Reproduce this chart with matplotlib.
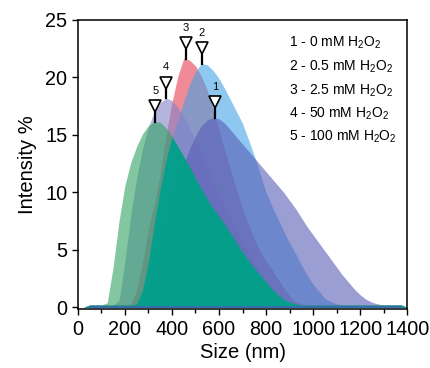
import numpy as np
import matplotlib
matplotlib.use("Agg")
import matplotlib.pyplot as plt
from matplotlib.ticker import MultipleLocator

plt.rcParams['font.family'] = ['Liberation Sans', 'DejaVu Sans']
plt.rcParams['mathtext.fontset'] = 'custom'
plt.rcParams['mathtext.rm'] = 'Liberation Sans'
plt.rcParams['mathtext.it'] = 'Liberation Sans:italic'

# ---- data ----
size_nm = np.arange(0, 1401, 25)

# curve 1 - 0 mM H2O2
int_1 = [0, 0, 0.2, 0.2, 0.2, 0.2, 0.2, 0.2, 0.2, 0.2,
         0.2, 0.8, 2.0, 3.6, 5.4, 7.2, 9.0, 10.8, 12.4, 13.8,
         14.9, 15.8, 16.3, 16.5, 16.4, 16.0, 15.4, 14.8, 14.2, 13.6,
         13.0, 12.4, 11.8, 11.2, 10.6, 10.0, 9.3, 8.6, 7.8, 7.0,
         6.3, 5.6, 4.9, 4.2, 3.5, 2.8, 2.2, 1.6, 1.1, 0.7,
         0.45, 0.3, 0.2, 0.2, 0.2, 0.2, 0]
# curve 2 - 0.5 mM H2O2
int_2 = [0, 0, 0.2, 0.2, 0.2, 0.2, 0.2, 0.2, 0.2, 0.2,
         0.3, 1.5, 4.0, 7.3, 10.3, 12.8, 14.8, 16.3, 17.9, 19.4,
         20.5, 21.2, 21.1, 20.6, 19.9, 19.0, 18.0, 17.0, 16.0, 14.6,
         13.2, 11.6, 10.0, 8.8, 7.7, 6.6, 5.6, 4.7, 3.7, 2.8,
         2.0, 1.4, 0.8, 0.5, 0.3, 0.2, 0.2, 0.2, 0.2, 0.2,
         0.2, 0.2, 0.2, 0.2, 0.2, 0.2, 0]
# curve 3 - 2.5 mM H2O2
int_3 = [0, 0, 0.2, 0.2, 0.2, 0.2, 0.2, 0.2, 0.2, 0.3,
         1.5, 4.0, 6.8, 9.0, 11.6, 15.0, 17.8, 20.1, 21.65, 21.5,
         21.0, 20.1, 18.9, 17.2, 15.4, 13.6, 11.9, 10.2, 8.6, 7.2,
         6.0, 4.9, 4.0, 3.3, 2.5, 1.7, 1.0, 0.5, 0.3, 0.2,
         0.2, 0.2, 0.2, 0.2, 0.2, 0.2, 0.2, 0.2, 0.2, 0.2,
         0.2, 0.2, 0.2, 0.2, 0.2, 0.2, 0]
# curve 4 - 50 mM H2O2
int_4 = [0, 0, 0.2, 0.2, 0.2, 0.2, 0.2, 0.6, 4.0, 8.0,
         11.3, 13.8, 15.7, 17.0, 17.8, 18.2, 18.0, 17.4, 16.6, 15.6,
         14.5, 13.4, 12.2, 11.0, 9.9, 8.8, 7.7, 6.7, 5.7, 4.8,
         3.9, 3.1, 2.4, 1.7, 1.2, 0.8, 0.5, 0.3, 0.2, 0.2,
         0.2, 0.2, 0.2, 0.2, 0.2, 0.2, 0.2, 0.2, 0.2, 0.2,
         0.2, 0.2, 0.2, 0.2, 0.2, 0.2, 0]
# curve 5 - 100 mM H2O2
int_5 = [0, 0, 0.2, 0.2, 0.2, 0.4, 3.5, 7.5, 10.6, 12.6,
         14.0, 15.1, 15.8, 16.15, 16.1, 15.6, 14.9, 14.0, 13.1, 12.2,
         11.2, 10.3, 9.4, 8.6, 7.9, 7.2, 6.4, 5.6, 4.8, 4.1,
         3.4, 2.8, 2.2, 1.6, 1.1, 0.7, 0.45, 0.3, 0.2, 0.2,
         0.2, 0.2, 0.2, 0.2, 0.2, 0.2, 0.2, 0.2, 0.2, 0.2,
         0.2, 0.2, 0.2, 0.2, 0.2, 0.2, 0]

curve_ids = ['1', '2', '3', '4', '5']
legend_labels = [r'1 - 0 mM H$_2$O$_2$', r'2 - 0.5 mM H$_2$O$_2$',
                 r'3 - 2.5 mM H$_2$O$_2$', r'4 - 50 mM H$_2$O$_2$',
                 r'5 - 100 mM H$_2$O$_2$']
peak_x = [583, 528, 458, 376, 330]

x_ticks = [0, 200, 400, 600, 800, 1000, 1200, 1400]
y_ticks = [0, 5, 10, 15, 20, 25]

# ---- figure ----
fig = plt.figure(figsize=(4.30, 3.68), dpi=100)
ax = fig.add_axes([0.181, 0.160, 0.766, 0.786])

series = {'1': np.array(int_1), '2': np.array(int_2), '3': np.array(int_3),
          '4': np.array(int_4), '5': np.array(int_5)}
colors = {'1': '#575db7', '2': '#43a3e6', '3': '#e63c50', '4': '#8282cb', '5': '#2fa361'}
alphas = {'1': 0.6, '2': 0.6, '3': 0.6, '4': 0.6, '5': 0.6}
order = ['3', '2', '4', '1', '5']
for k in order:
    ax.fill_between(size_nm, 0, series[k], color=colors[k], alpha=alphas[k], lw=0)

# overlap of green with the blue distributions (teal)
teal_top = np.minimum(series['5'], np.maximum(series['1'], series['2']))
ax.fill_between(size_nm, 0, teal_top, color='#00a08c', alpha=0.92, lw=0)

# thin blue baseline
ax.plot(size_nm[2:-1], np.zeros(len(size_nm) - 3) + 0.05, color='#4a58b8', lw=1.2, alpha=0.8)

# peak markers
for k, px in zip(curve_ids, peak_x):
    py = np.interp(px, size_nm, series[k])
    ax.plot([px, px], [py, py + 0.8], color='black', lw=1.6)
    ax.plot(px, py + 1.35, marker='v', ms=9, mfc='white', mec='black', mew=1.2)
    ax.text(px, py + 2.25, k, ha='center', va='bottom', fontsize=8)

# legend text
ly = [0.920, 0.837, 0.754, 0.675, 0.595]
for lab, yy in zip(legend_labels, ly):
    ax.text(0.641, yy, lab, transform=ax.transAxes, ha='left', va='center', fontsize=10)

ax.set_xlim(0, 1400)
ax.set_ylim(-0.15, 25)
ax.set_xticks(x_ticks)
ax.set_yticks(y_ticks)
ax.xaxis.set_minor_locator(MultipleLocator(100))
ax.tick_params(axis='both', which='major', labelsize=14.3, length=4, width=1, direction='out')
ax.tick_params(axis='x', which='minor', length=3, width=1, direction='out')
for s in ax.spines.values():
    s.set_linewidth(1.1)

ax.set_xlabel('Size (nm)', fontsize=14.5, labelpad=3)
ax.set_ylabel('Intensity %', fontsize=14.5, labelpad=6)

fig.savefig('out.png', dpi=100)
